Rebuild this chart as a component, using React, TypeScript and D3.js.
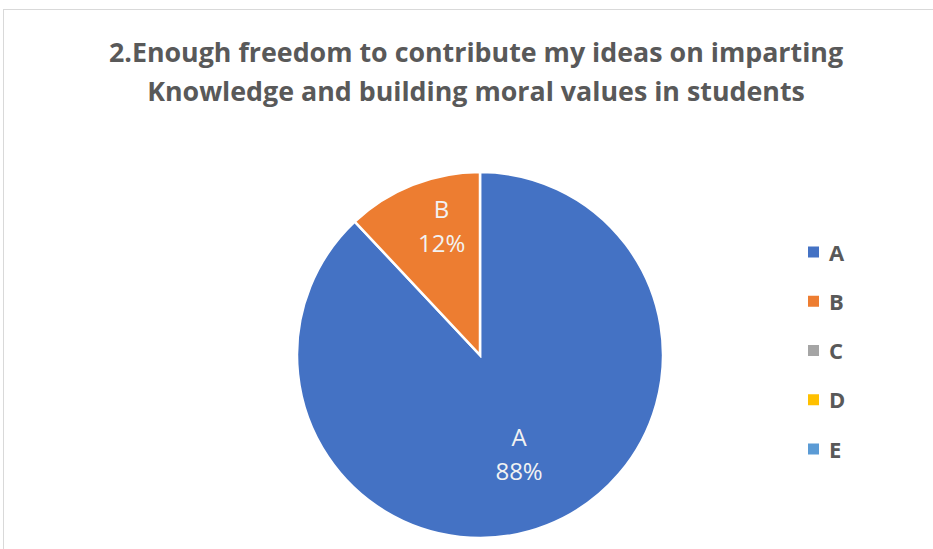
import React from 'react';
import * as d3 from 'd3';

const categories = ['A', 'B', 'C', 'D', 'E'];
const values = [88, 12, 0, 0, 0];
const colors = ['#4472C4', '#ED7D31', '#A5A5A5', '#FFC000', '#5B9BD5'];
const titleLines = [
  '2.Enough freedom to contribute my ideas on imparting',
  'Knowledge and building moral values in students',
];
// Excel places the labels at different depths in each slice
const labelDepth = [0.58, 0.76, 0.7, 0.7, 0.7];

const width = 933;
const height = 549;

function App() {
  const cx = 480;
  const cy = 355;
  const radius = 183;

  const pie = d3
    .pie<number>()
    .sort(null)
    .value((d) => d);
  const arcs = pie(values);
  const arc = d3.arc<d3.PieArcDatum<number>>().innerRadius(0).outerRadius(radius);

  const total = d3.sum(values);
  const legendY = d3.scalePoint<string>().domain(categories).range([252, 449]);

  return (
    <svg
      width={width}
      height={height}
      style={{ position: 'absolute', left: 0, top: 0, background: '#fff' }}
      fontFamily="'Open Sans', sans-serif"
    >
      <rect x={3.5} y={9.5} width={width + 10} height={height + 10} fill="#fff" stroke="#d9d9d9" />

      {titleLines.map((t, i) => (
        <text
          key={i}
          x={476}
          y={62 + i * 39}
          textAnchor="middle"
          fontSize={26.8}
          fontWeight="bold"
          fill="#595959"
        >
          {t}
        </text>
      ))}

      <g transform={`translate(${cx},${cy})`}>
        {arcs.map((a, i) =>
          a.value > 0 ? (
            <path key={i} d={arc(a)!} fill={colors[i]} stroke="#fff" strokeWidth={2.5} />
          ) : null
        )}
        {arcs.map((a, i) => {
          if (a.value <= 0) return null;
          const mid = (a.startAngle + a.endAngle) / 2;
          const r = radius * labelDepth[i];
          const x = Math.sin(mid) * r * (i === 1 ? 0.75 : 1);
          const y = -Math.cos(mid) * r;
          const pct = Math.round((a.value / total) * 100) + '%';
          return (
            <g key={'l' + i} fill="#f2f2f2" fontSize={24} textAnchor="middle">
              <text x={x} y={y - 8}>{categories[i]}</text>
              <text x={x} y={y + 26}>{pct}</text>
            </g>
          );
        })}
      </g>

      {categories.map((c, i) => (
        <g key={c} transform={`translate(808,${legendY(c)})`}>
          <rect x={0} y={-5.5} width={11} height={11} fill={colors[i]} />
          <text x={21} y={8.5} fontSize={22} fontWeight="bold" fill="#595959">
            {c}
          </text>
        </g>
      ))}
    </svg>
  );
}

export default App;
